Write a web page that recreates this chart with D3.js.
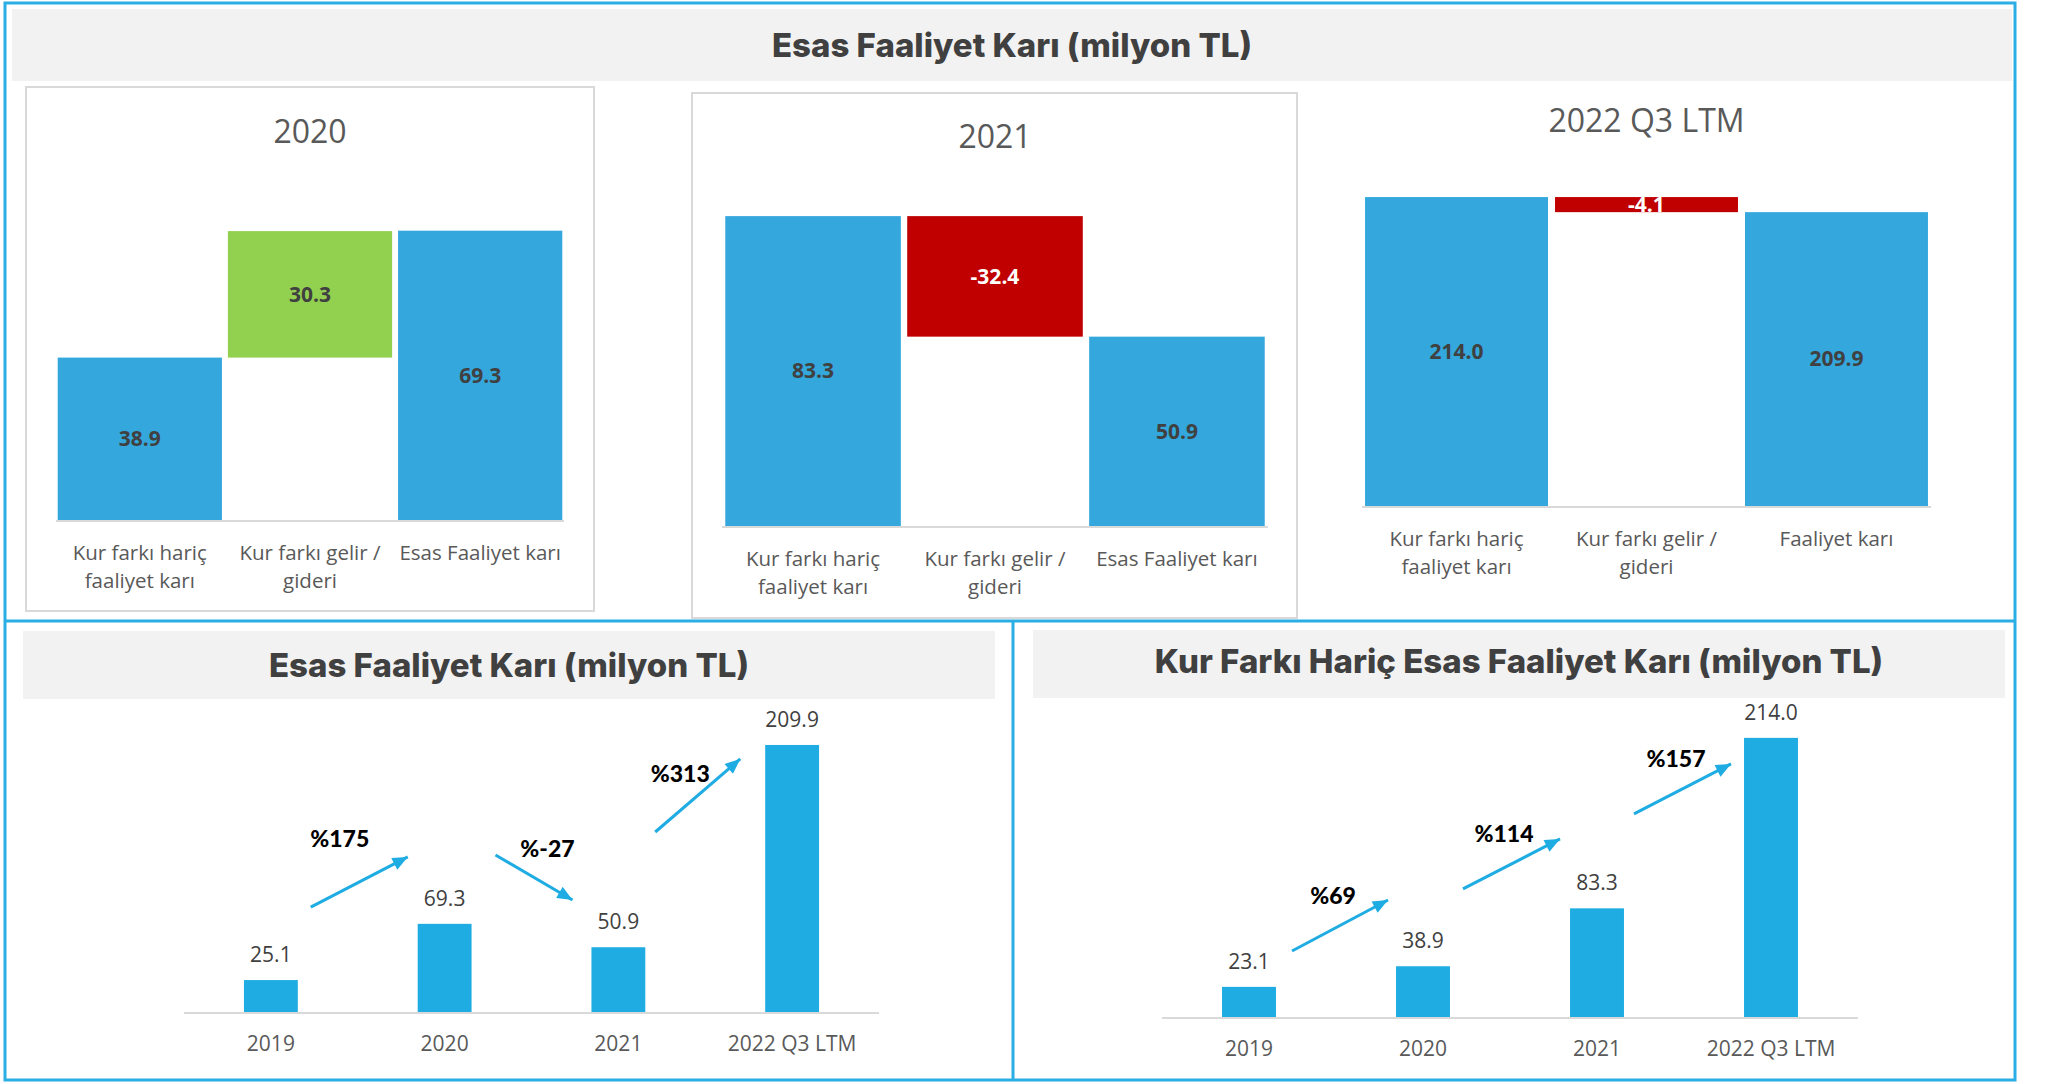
<!DOCTYPE html>
<html>
<head>
<meta charset="utf-8">
<script src="https://cdn.jsdelivr.net/npm/d3@7"></script>
<style>
body { margin: 0; background: #fff; }
svg { display: block; }
</style>
</head>
<body>
<svg id="chart" width="2045" height="1084"></svg>
<script>
// ---- data ----
var mainTitle = "Esas Faaliyet Karı (milyon TL)";
var leftTitle = "Esas Faaliyet Karı (milyon TL)";
var rightTitle = "Kur Farkı Hariç Esas Faaliyet Karı (milyon TL)";

var wfCats = [["Kur farkı hariç", "faaliyet karı"], ["Kur farkı gelir /", "gideri"], ["Esas Faaliyet karı"]];
var wfCats2022 = [["Kur farkı hariç", "faaliyet karı"], ["Kur farkı gelir /", "gideri"], ["Faaliyet karı"]];
var wfKinds = ["total", "delta", "total"];
var wf2020 = [38.9, 30.3, 69.3];
var wf2021 = [83.3, -32.4, 50.9];
var wf2022 = [214.0, -4.1, 209.9];

var years = ["2019", "2020", "2021", "2022 Q3 LTM"];
var esasKar = [25.1, 69.3, 50.9, 209.9];
var esasGrowth = ["%175", "%-27", "%313"];
var kurHaricKar = [23.1, 38.9, 83.3, 214.0];
var kurHaricGrowth = ["%69", "%114", "%157"];

// ---- layout / styles ----
var blue = "#34a7dd", barBlue = "#1eace2", green = "#92d050", red = "#c00000";
var frame = "#2aaee3", grid = "#d9d9d9", dark = "#404040", mid = "#595959";
var titleFont = "Inter, 'Open Sans', sans-serif";
var pctFont = "Lato, 'Open Sans', sans-serif";
var bodyFont = "'Open Sans', 'Noto Sans', sans-serif";

var svg = d3.select("#chart");

// outer frame and dividers
svg.append("rect").attr("x", 5).attr("y", 3).attr("width", 2010).attr("height", 1077)
  .attr("fill", "none").attr("stroke", frame).attr("stroke-width", 3);
svg.append("line").attr("x1", 5).attr("x2", 2015).attr("y1", 621).attr("y2", 621)
  .attr("stroke", frame).attr("stroke-width", 3);
svg.append("line").attr("x1", 1013).attr("x2", 1013).attr("y1", 621).attr("y2", 1080)
  .attr("stroke", frame).attr("stroke-width", 3);

function header(x, y, w, h, text, baseline) {
  svg.append("rect").attr("x", x).attr("y", y).attr("width", w).attr("height", h).attr("fill", "#f2f2f2");
  svg.append("text").attr("x", x + w / 2).attr("y", baseline)
    .attr("text-anchor", "middle").attr("font-family", titleFont).attr("font-weight", 800)
    .attr("font-size", 33).attr("fill", dark).text(text);
}
header(12, 9, 2000, 72, mainTitle, 57);
header(23, 631, 972, 68, leftTitle, 677);
header(1033, 630, 972, 68, rightTitle, 673);

// panel boxes for waterfalls
svg.append("rect").attr("x", 26).attr("y", 87).attr("width", 568).attr("height", 524)
  .attr("fill", "none").attr("stroke", grid).attr("stroke-width", 2);
svg.append("rect").attr("x", 692).attr("y", 93).attr("width", 605).attr("height", 525)
  .attr("fill", "none").attr("stroke", grid).attr("stroke-width", 2);

function waterfall(cfg, values, cats) {
  var g = svg.append("g");
  var x = d3.scaleBand().domain(d3.range(values.length)).range(cfg.xr)
    .paddingInner(cfg.pi).paddingOuter(cfg.po);
  var y = d3.scaleLinear().domain(cfg.dom).range(cfg.yr);
  var base = cfg.dom[0];
  var running = 0;
  var rows = values.map(function (v, i) {
    var r;
    if (wfKinds[i] === "total") { r = { a: base, b: v, v: v }; running = v; }
    else { r = { a: running, b: running + v, v: v }; running += v; }
    r.i = i;
    r.color = wfKinds[i] === "total" ? blue : (v >= 0 ? green : red);
    return r;
  });

  g.append("text").attr("x", (cfg.xr[0] + cfg.xr[1]) / 2).attr("y", cfg.titleY)
    .attr("text-anchor", "middle").attr("font-family", bodyFont).attr("font-size", 32)
    .attr("fill", mid).text(cfg.title);

  g.selectAll("rect.bar").data(rows).join("rect").attr("class", "bar")
    .attr("x", function (d) { return x(d.i); }).attr("width", x.bandwidth())
    .attr("y", function (d) { return y(Math.max(d.a, d.b)); })
    .attr("height", function (d) { return Math.abs(y(d.a) - y(d.b)); })
    .attr("fill", function (d) { return d.color; });

  g.append("line").attr("x1", cfg.xr[0]).attr("x2", cfg.xr[1])
    .attr("y1", y(base) + 1).attr("y2", y(base) + 1).attr("stroke", grid).attr("stroke-width", 2);

  g.selectAll("text.val").data(rows).join("text").attr("class", "val")
    .attr("x", function (d) { return x(d.i) + x.bandwidth() / 2; })
    .attr("y", function (d) { return (y(d.a) + y(d.b)) / 2; })
    .attr("dy", "0.35em").attr("text-anchor", "middle")
    .attr("font-family", bodyFont).attr("font-weight", 700).attr("font-size", 21)
    .attr("fill", function (d) { return d.color === red ? "#fff" : dark; })
    .text(function (d) { return d.v.toFixed(1); });

  cats.forEach(function (lines, i) {
    lines.forEach(function (s, j) {
      g.append("text").attr("x", x(i) + x.bandwidth() / 2).attr("y", y(base) + 40 + j * 28)
        .attr("text-anchor", "middle").attr("font-family", bodyFont).attr("font-size", 20.5)
        .attr("fill", mid).text(s);
    });
  });
}

waterfall({ title: "2020", xr: [56, 564], pi: 0.035, po: 0.01, dom: [0, 80], yr: [520, 186], titleY: 143 }, wf2020, wfCats);
waterfall({ title: "2021", xr: [722, 1268], pi: 0.035, po: 0.018, dom: [0, 100], yr: [526, 154], titleY: 148 }, wf2021, wfCats);
waterfall({ title: "2022 Q3 LTM", xr: [1362, 1931], pi: 0.037, po: 0.016, dom: [130, 220], yr: [506, 175], titleY: 132 }, wf2022, wfCats2022);

// arrow marker
svg.append("defs").append("marker").attr("id", "ah")
  .attr("viewBox", "0 0 14 12").attr("refX", 14).attr("refY", 6)
  .attr("markerWidth", 16).attr("markerHeight", 13).attr("markerUnits", "userSpaceOnUse")
  .attr("orient", "auto")
  .append("path").attr("d", "M0,0 L14,6 L0,12 Z").attr("fill", barBlue);

// arrow placement (value units on each chart's y scale, px offsets from the midpoint between bars)
var esasArrows = [
  { x0: -47, x1: 50, y0: 82.5, y1: 121.9, dx: -18, ly: 129.8 },
  { x0: -36, x1: 41, y0: 123.4, y1: 88.0, dx: 16, ly: 121.9 },
  { x0: -50, x1: 35, y0: 141.5, y1: 198.9, dx: -25, ly: 180.8 }
];
var kurArrows = [
  { x0: -44, x1: 52, y0: 50.6, y1: 89.7, dx: -3, ly: 86.7 },
  { x0: -47, x1: 50, y0: 98.2, y1: 136.5, dx: -6, ly: 134.2 },
  { x0: -50, x1: 47, y0: 155.7, y1: 194.0, dx: -8, ly: 191.7 }
];

function growthChart(cfg, values, growth, arrows) {
  var g = svg.append("g");
  var x = d3.scaleBand().domain(years).range(cfg.xr).paddingInner(0.69).paddingOuter(0.345);
  var y = d3.scaleLinear().domain([0, 230]).range(cfg.yr);
  var rows = values.map(function (v, i) { return { k: years[i], v: v }; });

  g.selectAll("rect").data(rows).join("rect")
    .attr("x", function (d) { return x(d.k); }).attr("width", x.bandwidth())
    .attr("y", function (d) { return y(d.v); })
    .attr("height", function (d) { return y(0) - y(d.v); })
    .attr("fill", barBlue);

  g.append("line").attr("x1", cfg.xr[0]).attr("x2", cfg.xr[1])
    .attr("y1", y(0) + 1).attr("y2", y(0) + 1).attr("stroke", grid).attr("stroke-width", 2);

  g.selectAll("text.val").data(rows).join("text").attr("class", "val")
    .attr("x", function (d) { return x(d.k) + x.bandwidth() / 2; })
    .attr("y", function (d) { return y(d.v) - 18; })
    .attr("text-anchor", "middle").attr("font-family", bodyFont).attr("font-size", 21)
    .attr("fill", dark).text(function (d) { return d.v.toFixed(1); });

  g.selectAll("text.cat").data(years).join("text").attr("class", "cat")
    .attr("x", function (d) { return x(d) + x.bandwidth() / 2; })
    .attr("y", y(0) + 39)
    .attr("text-anchor", "middle").attr("font-family", bodyFont).attr("font-size", 21)
    .attr("fill", mid).text(function (d) { return d; });

  growth.forEach(function (s, i) {
    var m = (x(years[i]) + x(years[i + 1])) / 2 + x.bandwidth() / 2;
    var a = arrows[i];
    g.append("line").attr("x1", m + a.x0).attr("y1", y(a.y0))
      .attr("x2", m + a.x1).attr("y2", y(a.y1))
      .attr("stroke", barBlue).attr("stroke-width", 3).attr("marker-end", "url(#ah)");
    g.append("text").attr("x", m + a.dx).attr("y", y(a.ly))
      .attr("text-anchor", "middle").attr("font-family", pctFont).attr("font-weight", 900)
      .attr("font-size", 23).attr("fill", "#000").text(s);
  });
}

growthChart({ xr: [184, 879], yr: [1012, 719.4] }, esasKar, esasGrowth, esasArrows);
growthChart({ xr: [1162, 1858], yr: [1017, 717] }, kurHaricKar, kurHaricGrowth, kurArrows);
</script>
</body>
</html>
